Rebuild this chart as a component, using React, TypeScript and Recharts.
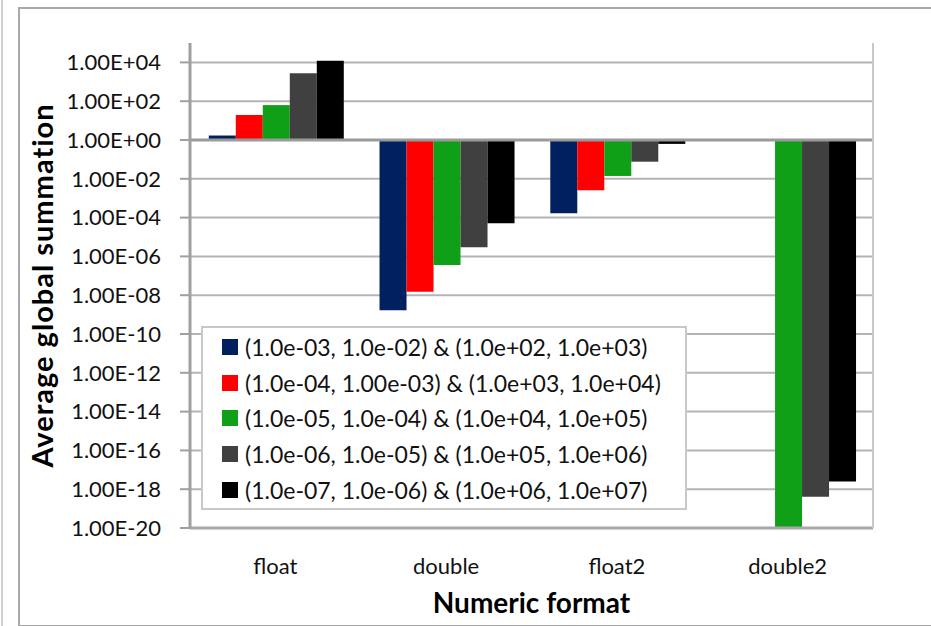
import { BarChart, Bar, XAxis, YAxis, CartesianGrid, ReferenceLine } from 'recharts'

const formats = ['float', 'double', 'float2', 'double2']

const seriesNames = [
  '(1.0e-03, 1.0e-02) & (1.0e+02, 1.0e+03)',
  '(1.0e-04, 1.00e-03) & (1.0e+03, 1.0e+04)',
  '(1.0e-05, 1.0e-04) & (1.0e+04, 1.0e+05)',
  '(1.0e-06, 1.0e-05) & (1.0e+05, 1.0e+06)',
  '(1.0e-07, 1.0e-06) & (1.0e+06, 1.0e+07)',
]

const seriesColors = ['#002060', '#ff0000', '#10a018', '#404040', '#000000']

// average global summation per numeric format (null = no bar)
const s1 = [1.7, 1.7e-9, 1.7e-4, null]
const s2 = [19.5, 1.5e-8, 2.6e-3, null]
const s3 = [63, 3.6e-7, 1.4e-2, 1e-20]
const s4 = [2750, 3e-6, 7.6e-2, 4.1e-19]
const s5 = [1.2e4, 5.1e-5, 0.63, 2.5e-18]

const yTicks = [4, 2, 0, -2, -4, -6, -8, -10, -12, -14, -16, -18, -20]

const allSeries = [s1, s2, s3, s4, s5]

// bars are drawn on a log10 axis so that they hang from 1.00E+00
const data = formats.map((f, i) => {
  const row: Record<string, string | number | null> = { format: f }
  allSeries.forEach((s, k) => {
    const v = s[i]
    row['s' + k] = v == null ? null : Math.log10(v)
  })
  return row
})

const fmtTick = (v: number) => `1.00E${v < 0 ? '-' : '+'}${String(Math.abs(v)).padStart(2, '0')}`

const font = 'Lato, "Open Sans", sans-serif'

function LegendBox() {
  return (
    <div
      style={{
        position: 'absolute',
        left: 201,
        top: 326,
        width: 482,
        height: 179,
        background: '#fff',
        border: '2px solid #c8c8c8',
        paddingTop: 1,
        fontFamily: font,
        fontSize: 23,
        color: '#111',
      }}
    >
      {seriesNames.map((n, i) => (
        <div key={n} style={{ display: 'flex', alignItems: 'center', height: 35.7, paddingLeft: 19, whiteSpace: 'nowrap' }}>
          <span style={{ width: 16, height: 16, background: seriesColors[i], marginRight: 7, display: 'inline-block', flex: 'none' }} />
          <span>{n}</span>
        </div>
      ))}
    </div>
  )
}

export default function App() {
  return (
    <div style={{ position: 'absolute', left: 0, top: 0, width: 931, height: 626, background: '#fff', overflow: 'hidden' }}>
      <div style={{ position: 'absolute', left: 1, top: 0, width: 2, height: 626, background: '#d0d0d0' }} />
      <div
        style={{
          position: 'absolute',
          left: 18,
          top: 7,
          width: 940,
          height: 616,
          border: '2px solid #a8a8a8',
        }}
      />
      <BarChart
        width={931}
        height={626}
        data={data}
        margin={{ top: 43, right: 57, left: 20, bottom: 38 }}
        barCategoryGap="11%"
        barGap={0}
        style={{ position: 'absolute', left: 0, top: 0, fontFamily: font }}
      >
        <CartesianGrid vertical={false} stroke="#b4b4b4" strokeWidth={2} horizontalValues={yTicks} />
        <XAxis
          dataKey="format"
          tickLine={false}
          axisLine={{ stroke: '#a8a8a8', strokeWidth: 3 }}
          height={60}
          tickSize={0}
          tickMargin={30}
          tick={{ fontSize: 22, fill: '#111', fontFamily: font }}
          label={{
            content: ({ viewBox }: any) => (
              <text
                x={viewBox.x + viewBox.width / 2}
                y={viewBox.y + 74}
                textAnchor="middle"
                dominantBaseline="central"
                style={{ fontSize: 28, fontWeight: 700, fill: '#000', fontFamily: font }}
              >
                Numeric format
              </text>
            ),
          }}
        />
        <XAxis xAxisId="top" orientation="top" dataKey="format" height={0} tick={false} tickLine={false} axisLine={{ stroke: '#c8c8c8', strokeWidth: 2 }} />
        <YAxis
          type="number"
          domain={[-20, 5]}
          ticks={yTicks}
          interval={0}
          width={170}
          tickFormatter={fmtTick}
          tickSize={10}
          tickMargin={19}
          tickLine={{ stroke: '#a0a0a0', strokeWidth: 2 }}
          axisLine={{ stroke: '#a0a0a0', strokeWidth: 3 }}
          tick={{ fontSize: 22, fill: '#111', fontFamily: font }}
          label={{
            content: ({ viewBox }: any) => (
              <text
                x={viewBox.x + 21}
                y={viewBox.y + viewBox.height / 2}
                transform={`rotate(-90, ${viewBox.x + 21}, ${viewBox.y + viewBox.height / 2})`}
                textAnchor="middle"
                dominantBaseline="central"
                style={{ fontSize: 29, fontWeight: 700, letterSpacing: 1, fill: '#000', fontFamily: font }}
              >
                Average global summation
              </text>
            ),
          }}
        />
        <YAxis yAxisId="right" orientation="right" width={1} tick={false} tickLine={false} axisLine={{ stroke: '#c8c8c8', strokeWidth: 2 }} />
        <ReferenceLine y={0} stroke="#9a9a9a" strokeWidth={3} />
        {seriesNames.map((n, k) => (
          <Bar key={n} dataKey={'s' + k} name={n} fill={seriesColors[k]} isAnimationActive={false} />
        ))}
      </BarChart>
      <LegendBox />
    </div>
  )
}
